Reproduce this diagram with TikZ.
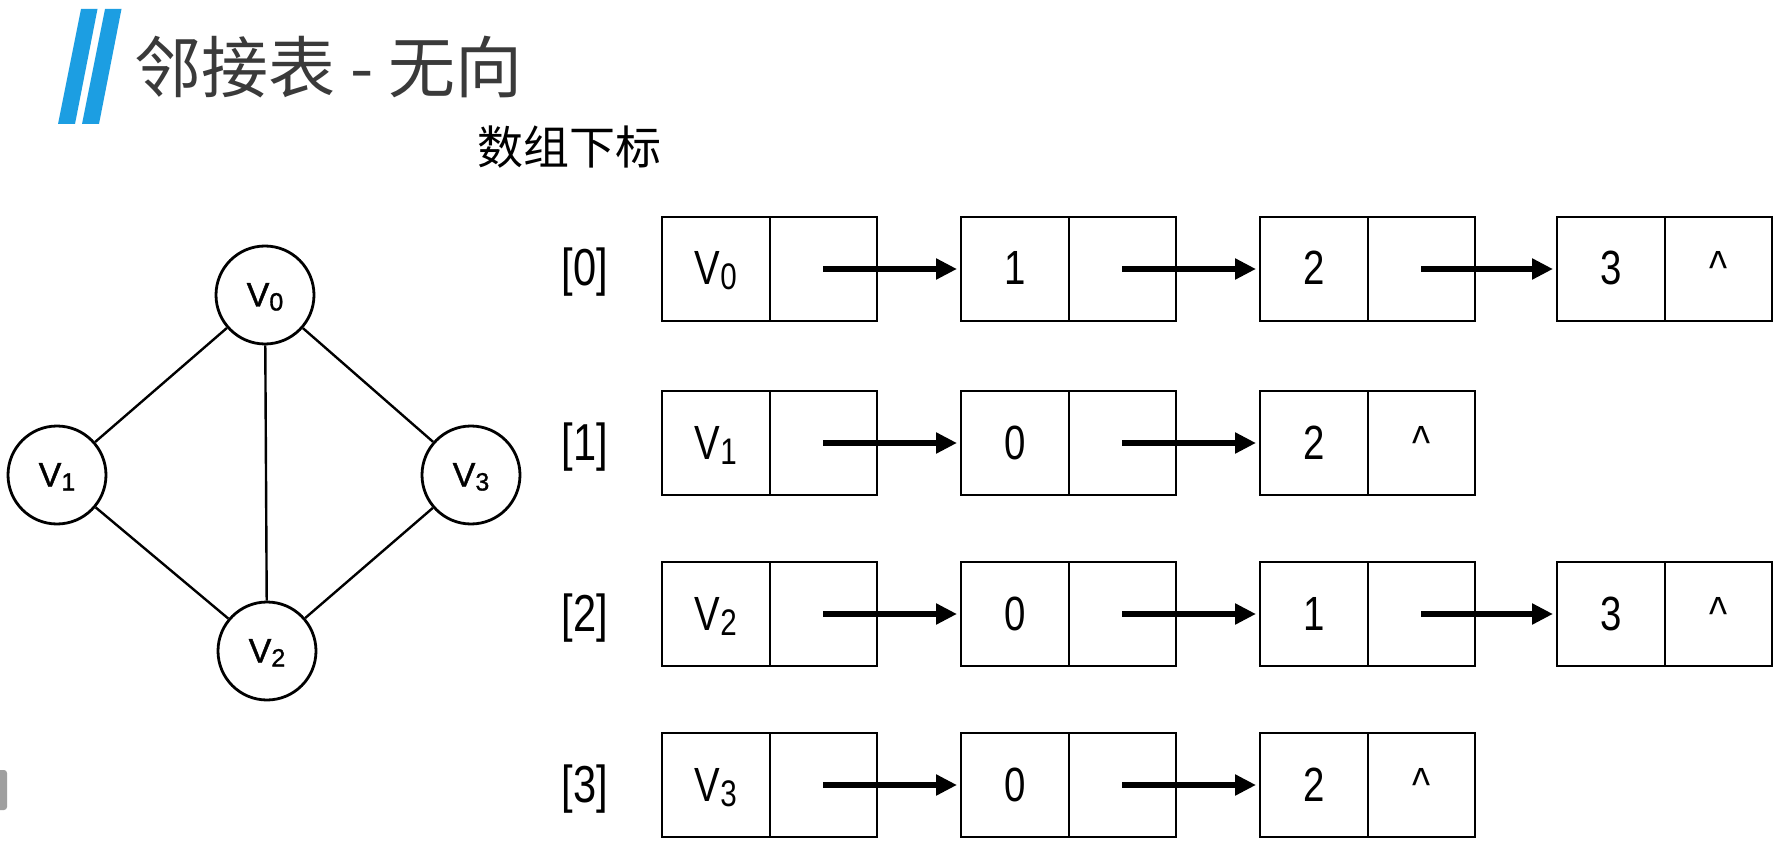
\documentclass[tikz,border=0pt]{standalone}
\usepackage{fontspec}
\setmainfont{Liberation Sans}
\newfontfamily\cjk{Noto Sans CJK SC}
\newfontfamily\boxfont[FakeStretch=0.8]{Liberation Sans}
\newfontfamily\gfont[FakeBold=1.2]{Liberation Sans}
\usetikzlibrary{arrows.meta}
\definecolor{barblue}{RGB}{28,158,226}
\definecolor{titlegray}{RGB}{58,58,58}
\newcommand\bsub[1]{V\raisebox{-5pt}{\fontsize{37}{37}\selectfont #1}}
\newcommand\gsub[1]{V\raisebox{-4pt}{\fontsize{25}{25}\selectfont #1}}
\newcommand\cellpair[5]{%
  \node[cell] (#1d) at (#2,#3) {#4};
  \node[cell] (#1p) at ({#2+107.5},#3) {#5};}
\begin{document}
\begin{tikzpicture}[x=1pt,y=-1pt,
  vert/.style={circle,draw,line width=2.8pt,minimum size=98pt,inner sep=0pt,
    font=\gfont\fontsize{34}{34}\selectfont,text height=25pt,text depth=2pt},
  edge/.style={line width=2.4pt},
  cell/.style={draw,line width=2pt,minimum width=107.5pt,minimum height=104pt,inner sep=0pt,
    font=\boxfont\fontsize{48}{48}\selectfont,text height=34pt,text depth=2pt},
  idx/.style={inner sep=0pt,font=\boxfont\fontsize{52}{52}\selectfont,text height=36pt,text depth=2pt},
  ptr/.style={line width=6pt,-{Triangle[length=21pt,width=20pt]},shorten >=3pt}
]
\useasboundingbox (0,0) rectangle (1789,850);
\fill[white] (0,0) rectangle (1789,850);

% title decoration
\fill[barblue] (81,9) -- (97.5,9) -- (75,124) -- (58,124) -- cycle;
\fill[barblue] (105,9) -- (121.5,9) -- (99,124) -- (82,124) -- cycle;
\node[anchor=base west,inner sep=0pt,text=titlegray,font=\cjk\fontsize{67}{67}\selectfont] (title) at (134,93) {邻接表 - 无向};
\node[anchor=base west,inner sep=0pt,font=\cjk\fontsize{46}{46}\selectfont] (sub) at (477,165) {数组下标};

% gray mark
\fill[gray!75,rounded corners=3pt] (-10,770) rectangle (7,810);

% graph
\node[vert] (v0) at (265,295) {\gsub{0}};
\node[vert] (v1) at (57,475) {\gsub{1}};
\node[vert] (v3) at (471,475) {\gsub{3}};
\node[vert] (v2) at (267,651) {\gsub{2}};
\draw[edge] (v0) -- (v1);
\draw[edge] (v0) -- (v3);
\draw[edge] (v0) -- (v2);
\draw[edge] (v1) -- (v2);
\draw[edge] (v3) -- (v2);

% row labels
\node[idx] (i0) at (585,269) {[0]};
\node[idx] (i1) at (585,443) {[1]};
\node[idx] (i2) at (585,614) {[2]};
\node[idx] (i3) at (585,785) {[3]};

% row 0
\cellpair{a0}{715.75}{269}{\bsub{0}}{}
\cellpair{a1}{1014.75}{269}{1}{}
\cellpair{a2}{1313.75}{269}{2}{}
\cellpair{a3}{1610.75}{269}{3}{\textasciicircum}
\draw[ptr] (a0p.center) -- (a1d.west);
\draw[ptr] (a1p.center) -- (a2d.west);
\draw[ptr] (a2p.center) -- (a3d.west);

% row 1
\cellpair{b0}{715.75}{443}{\bsub{1}}{}
\cellpair{b1}{1014.75}{443}{0}{}
\cellpair{b2}{1313.75}{443}{2}{\textasciicircum}
\draw[ptr] (b0p.center) -- (b1d.west);
\draw[ptr] (b1p.center) -- (b2d.west);

% row 2
\cellpair{c0}{715.75}{614}{\bsub{2}}{}
\cellpair{c1}{1014.75}{614}{0}{}
\cellpair{c2}{1313.75}{614}{1}{}
\cellpair{c3}{1610.75}{614}{3}{\textasciicircum}
\draw[ptr] (c0p.center) -- (c1d.west);
\draw[ptr] (c1p.center) -- (c2d.west);
\draw[ptr] (c2p.center) -- (c3d.west);

% row 3
\cellpair{d0}{715.75}{785}{\bsub{3}}{}
\cellpair{d1}{1014.75}{785}{0}{}
\cellpair{d2}{1313.75}{785}{2}{\textasciicircum}
\draw[ptr] (d0p.center) -- (d1d.west);
\draw[ptr] (d1p.center) -- (d2d.west);
\end{tikzpicture}
\end{document}
